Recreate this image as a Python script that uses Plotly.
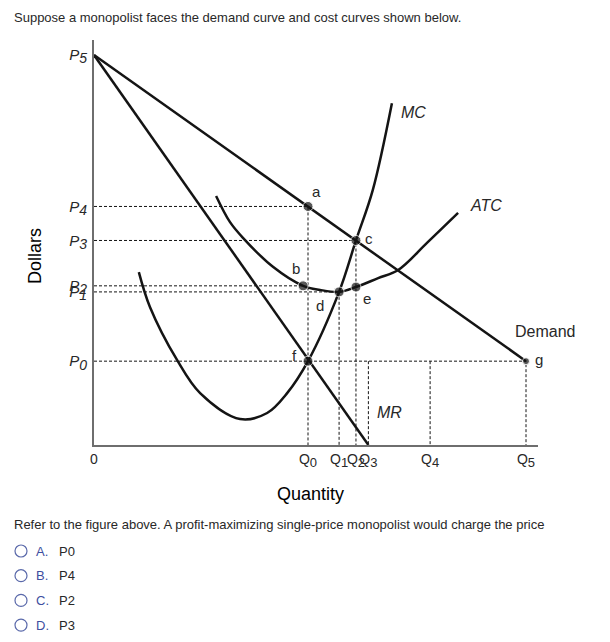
import plotly.graph_objects as go

# Quantity and price levels marked on the axes (chart units, 0-100)
Q_LABELS = ['Q<sub><span style="font-size:13px">%d</span></sub>' % i for i in range(6)]
Q_VALS = [48.2, 55.2, 59.0, 61.8, 75.7, 97.3]
P_LABELS = ['P<sub><span style="font-size:14px">%d</span></sub>' % i for i in range(6)]
P_VALS = [20.7, 37.8, 39.3, 50.5, 58.9, 96.3]

# cost curves
MC_X = [10.1, 12.6, 18.7, 23.9, 32.9, 39.0, 43.5, 48.2, 55.2, 59.0, 62.8, 67.1]
MC_Y = [42.7, 34.1, 21.0, 12.8, 6.4, 7.9, 12.8, 20.7, 37.8, 50.5, 63.0, 84.4]
ATC_X = [27.5, 30.6, 33.6, 40.3, 47.1, 50.9, 55.2, 59.0, 64.0, 68.5, 75.0, 82.0]
ATC_Y = [61.5, 55.1, 51.1, 44.0, 39.3, 38.3, 37.8, 39.0, 41.2, 43.2, 49.9, 57.3]

# labelled points: name, quantity, price
POINT_NAMES = ['a', 'b', 'c', 'd', 'e', 'f', 'g']
POINT_X = [Q_VALS[0], 47.1, Q_VALS[2], Q_VALS[1], Q_VALS[2], Q_VALS[0], Q_VALS[5]]
POINT_Y = [P_VALS[4], P_VALS[2], P_VALS[3], P_VALS[1], 39.0, P_VALS[0], P_VALS[0]]

FONT = 'Arial, Liberation Sans, sans-serif'
INK = 'rgb(20, 20, 20)'
TEXT = 'rgb(40, 40, 40)'
BLUE = 'rgb(62, 78, 160)'

# the page body adds an 8px margin, so the figure is drawn 8px smaller
OFF = 8
FIG_W, FIG_H = 610 - OFF, 642 - OFF
L, T, W, H = 94 - OFF, 40 - OFF, 444, 405


def px(x):
    """Reference pixel x to paper x."""
    return (x - OFF - L) / W


def py(y):
    """Reference pixel y to paper y."""
    return (T + H - (y - OFF)) / H


def dashed(xs, ys):
    return go.Scatter(x=xs, y=ys, mode='lines', hoverinfo='skip',
                      line={'color': INK, 'width': 1, 'dash': '3px,2px'})


def curve(xs, ys, shape='linear'):
    return go.Scatter(x=xs, y=ys, mode='lines', hoverinfo='skip',
                      line={'color': INK, 'width': 2.5, 'shape': shape})


def note(x, y, text, size=13, color=TEXT, xanchor='center', yanchor='middle', **kw):
    fig.add_annotation(xref='paper', yref='paper', x=px(x), y=py(y), text=text,
                       xanchor=xanchor, yanchor=yanchor, showarrow=False,
                       font={'family': FONT, 'size': size, 'color': color}, **kw)


fig = go.Figure()

# dashed guides
q0, q1, q2, q3, q4, q5 = Q_VALS
p0, p1, p2, p3, p4, p5 = P_VALS
fig.add_trace(dashed([0, q0, q0], [p4, p4, 0]))
fig.add_trace(dashed([0, q2, q2], [p3, p3, 0]))
fig.add_trace(dashed([0, POINT_X[1]], [p2, p2]))
fig.add_trace(dashed([0, q1, q1], [p1, p1, 0]))
fig.add_trace(dashed([0, q5, q5], [p0, p0, 0]))
fig.add_trace(dashed([q3, q3], [p0, 0]))
fig.add_trace(dashed([q4, q4], [p0, 0]))

# demand, MR and cost curves
fig.add_trace(curve([0, q5], [p5, p0]))
fig.add_trace(curve([0, q3], [p5, 0]))
fig.add_trace(curve(MC_X, MC_Y, 'spline'))
fig.add_trace(curve(ATC_X, ATC_Y, 'spline'))

sizes = [10, 10, 10, 10, 10, 10, 7]
fig.add_trace(go.Scatter(x=POINT_X, y=POINT_Y, mode='markers', hoverinfo='skip',
                         marker={'color': INK, 'size': sizes}))

# point letters, offset in pixels (right, down)
offsets = [(8, -15), (-7, -17), (13, -2), (-19, 14), (11, 11), (-14, -6), (13, -2)]
for name, x, y, (dx, dy) in zip(POINT_NAMES, POINT_X, POINT_Y, offsets):
    fig.add_annotation(x=x, y=y, text=name, showarrow=False, xshift=dx, yshift=-dy,
                       font={'family': FONT, 'size': 15, 'color': TEXT})

note(413, 112, '<i>MC</i>', 16)
note(486, 205, '<i>ATC</i>', 16)
note(545, 331, 'Demand', 16)
note(389, 412, '<i>MR</i>', 16)

# axis titles
note(310, 494, 'Quantity', 18, 'black')
note(35, 256, 'Dollars', 18, 'black', textangle=-90)

# question text
note(12, OFF, 'Suppose a monopolist faces the demand curve and cost curves shown below.',
     xanchor='left', yanchor='top')
note(12, 524, 'Refer to the figure above. A profit-maximizing single-price monopolist '
              'would charge the price', xanchor='left')

OPTION_KEYS = ['A.', 'B.', 'C.', 'D.']
OPTION_TEXT = ['P0', 'P4', 'P2', 'P3']
for i, (key, text) in enumerate(zip(OPTION_KEYS, OPTION_TEXT)):
    yc = 551 + i * 24.7
    fig.add_shape(type='circle', xref='paper', yref='paper',
                  x0=px(15), x1=px(27), y0=py(yc + 6), y1=py(yc - 6),
                  line={'color': 'rgb(90, 105, 170)', 'width': 1.2})
    note(34, yc, key, color=BLUE, xanchor='left')
    note(57, yc, text, xanchor='left')

fig.update_layout(
    width=FIG_W, height=FIG_H,
    margin={'l': L, 'r': FIG_W - L - W, 't': T, 'b': FIG_H - T - H},
    paper_bgcolor='white', plot_bgcolor='white',
    showlegend=False,
    xaxis={'range': [0, 100], 'showgrid': False, 'zeroline': False,
           'showline': True, 'linecolor': 'rgb(110, 110, 110)', 'linewidth': 2,
           'tickvals': [0] + Q_VALS, 'ticktext': ['0'] + Q_LABELS, 'ticks': '',
           'tickangle': 0, 'ticklabelstandoff': 0,
           'tickfont': {'family': FONT, 'size': 14, 'color': TEXT}},
    yaxis={'range': [0, 100], 'showgrid': False, 'zeroline': False,
           'showline': True, 'linecolor': 'rgb(110, 110, 110)', 'linewidth': 2,
           'tickvals': P_VALS, 'ticktext': P_LABELS, 'ticks': '',
           'ticklabelstandoff': 2,
           'tickfont': {'family': FONT, 'size': 15, 'color': TEXT, 'style': 'italic'}},
)

fig.write_html('out.html')
